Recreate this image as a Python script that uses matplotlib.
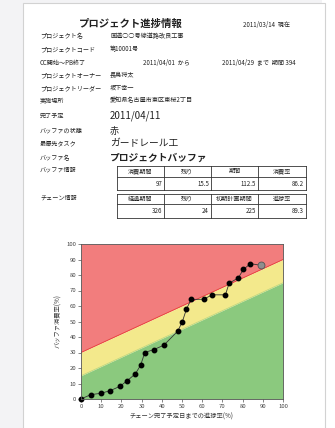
import matplotlib.pyplot as plt
from matplotlib.patches import Rectangle
from matplotlib.lines import Line2D

plt.rcParams['font.family'] = ['Noto Sans CJK JP', 'DejaVu Sans']

W, H = 335, 428

# header info
title = 'プロジェクト進捗情報'
as_of = '2011/03/14  現在'
info_labels = ['プロジェクト名', 'プロジェクトコード', 'CC開始～PB終了',
               'プロジェクトオーナー', 'プロジェクトリーダー', '実施場所']
info_values = ['国道○○号線道路改良工事', '第10001号', '', '長島将太', '坂下幸一',
               '愛知県名古屋市東区東桜2丁目']
cc_start = '2011/04/01  から'
cc_end = '2011/04/29  まで  期間 394'

status_labels = ['完了予定', 'バッファの状態', '最優先タスク', 'バッファ名']
status_values = ['2011/04/11', '赤', 'ガードレール工', 'プロジェクトバッファ']

buffer_head = ['消費期間', '残り', '期間', '消費率']
buffer_vals = ['97', '15.5', '112.5', '86.2']
chain_head = ['経過期間', '残り', '初期計画期間', '進捗率']
chain_vals = ['326', '24', '225', '89.3']

# fever chart
zone_x = [0, 100]
zone_upper = [30, 90]
zone_lower = [15, 75]
progress = [0, 4.8, 9.9, 14.5, 19.3, 22.7, 26.9, 29.5, 31.6, 36.1, 41, 47.9,
            50.2, 52.2, 54.5, 60.8, 64.9, 71.5, 73.3, 77.9, 80.4, 83.9]
consumption = [0, 2.8, 3.7, 5.4, 8.2, 11.6, 16.2, 21.8, 30, 31.9, 34.7, 43.8,
               50, 58, 64.2, 64.4, 67.2, 67.2, 74.6, 78.2, 83.6, 87.3]
current = (89.3, 86.2)


def px(x, y):
    return x / W, 1 - y / H


fig = plt.figure(figsize=(W / 100, H / 100), dpi=100, facecolor='#f3f3f5')
fig.add_artist(Rectangle((322 / W, 0), 13 / W, 1, transform=fig.transFigure,
                         facecolor='white', edgecolor='none', zorder=-2))
fig.add_artist(Rectangle(px(22.5, 440), 302.5 / W, 437 / H, transform=fig.transFigure,
                         facecolor='white', edgecolor='#d2d2d2', lw=0.8, zorder=-1))


def txt(x, y, s, size=4.4, **kw):
    kw.setdefault('va', 'center')
    kw.setdefault('color', '#222222')
    fig.text(*px(x, y), s, fontsize=size, **kw)


txt(131, 24, title, size=7.5, weight='bold', ha='center')
txt(243, 25, as_of, size=4.4)

rows_y = [36, 49.5, 62.5, 75, 88, 100.5]
for lab, val, y in zip(info_labels, info_values, rows_y):
    txt(40, y, lab)
    if val:
        txt(110, y, val)
txt(143, 62.5, cc_start)
txt(222, 62.5, cc_end)

status_y = [116, 131, 143.5, 158]
status_size = [7, 6.5, 7, 7]
for lab, val, y, s in zip(status_labels, status_values, status_y, status_size):
    txt(40, y, lab)
    txt(110, y, val, size=s, weight='bold' if lab == 'バッファ名' else 'normal')


def grid_table(y0, y1, y2, head, vals):
    xs = [117, 164, 211, 258, 306]
    lines = [([xs[0], xs[-1]], [y, y]) for y in (y0, y1, y2)]
    lines += [([x, x], [y0, y2]) for x in xs]
    for lx, ly in lines:
        fig.add_artist(Line2D([v / W for v in lx], [1 - v / H for v in ly],
                              transform=fig.transFigure, color='#333333', lw=0.6))
    for i in range(4):
        txt((xs[i] + xs[i + 1]) / 2, (y0 + y1) / 2, head[i], size=4.4, ha='center')
        txt(xs[i + 1] - 2, (y1 + y2) / 2 + 0.5, vals[i], size=4.4, ha='right')


txt(40, 170, 'バッファ情報')
grid_table(165.5, 177, 189.5, buffer_head, buffer_vals)
txt(40, 198, 'チェーン情報')
grid_table(194, 203.5, 218, chain_head, chain_vals)

ax = fig.add_axes([81 / W, 1 - 399 / H, 202 / W, 155 / H])
ax.set_zorder(3)
ax.fill_between(zone_x, zone_upper, 100, color='#f27d7d', lw=0)
ax.fill_between(zone_x, zone_lower, zone_upper, color='#f3e98c', lw=0)
ax.fill_between(zone_x, 0, zone_lower, color='#8bc97e', lw=0)
ax.plot(zone_x, zone_upper, color='#e8403a', lw=0.6)
ax.plot(zone_x, zone_lower, color='#b9d77f', lw=0.5)
ax.plot(list(progress) + [current[0]], list(consumption) + [current[1]],
        color='#333333', lw=0.6, marker='o', ms=3.2, mfc='black', mec='black',
        clip_on=False)
ax.plot(*current, marker='o', ms=5, mfc='#8e8e8e', mec='#555555', mew=0.6)
ax.set_xlim(0, 100)
ax.set_ylim(0, 100)
ax.set_xticks(range(0, 101, 10))
ax.set_yticks(range(0, 101, 10))
ax.tick_params(labelsize=4.3, labelcolor='#444444', length=2, width=0.5, pad=1.5,
               color='#555555')
for sp in ax.spines.values():
    sp.set_color('#555555')
    sp.set_linewidth(0.6)
ax.set_xlabel('チェーン完了予定日までの進捗率(%)', fontsize=4.5, color='#333333', labelpad=3)
ax.set_ylabel('バッファ消費率(%)', fontsize=4.5, color='#333333', labelpad=3)

fig.savefig('out.png', dpi=100, facecolor=fig.get_facecolor())
